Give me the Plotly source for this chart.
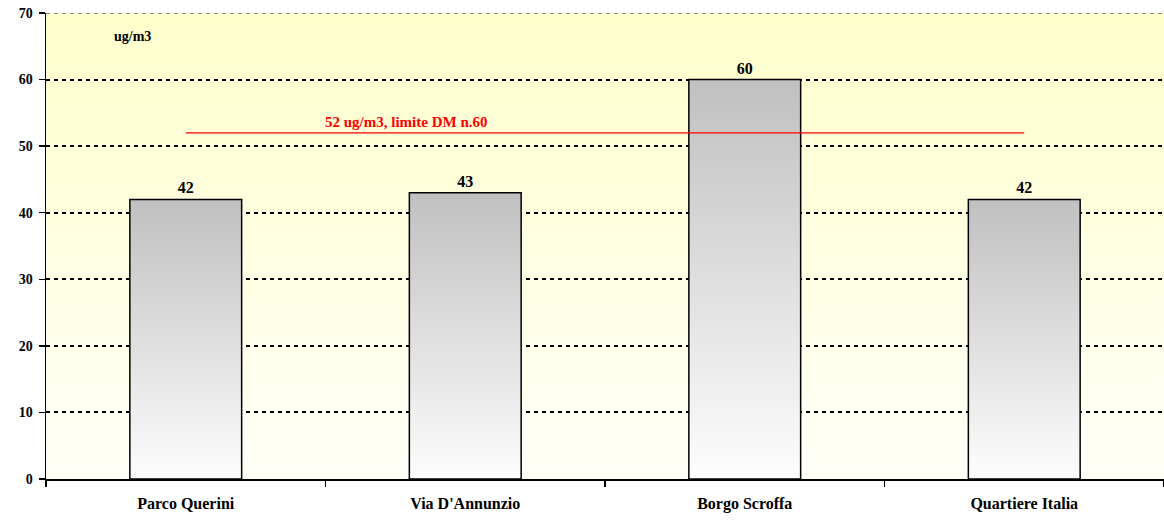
import plotly.graph_objects as go
import urllib.parse

categories = ["Parco Querini", "Via D'Annunzio", "Borgo Scroffa", "Quartiere Italia"]
values = [42, 43, 60, 42]
limit_value = 52
limit_label = "52 ug/m3, limite DM n.60"
unit_label = "ug/m3"
y_ticks = [0, 10, 20, 30, 40, 50, 60, 70]

BAR_W = 0.4
FONT = "Liberation Serif, Times New Roman, serif"

fig = go.Figure()

# background gradient via svg image
svg = ('<svg xmlns="http://www.w3.org/2000/svg" width="10" height="100" preserveAspectRatio="none">'
       '<defs><linearGradient id="g" x1="0" y1="0" x2="0" y2="1">'
       '<stop offset="0" stop-color="#FFFFCC"/><stop offset="1" stop-color="#FFFFF8"/>'
       '</linearGradient></defs><rect width="10" height="100" fill="url(#g)"/></svg>')
src = "data:image/svg+xml;charset=utf-8," + urllib.parse.quote(svg)
fig.add_layout_image(source=src, xref="paper", yref="paper", x=0, y=1, sizex=1, sizey=1,
                     sizing="stretch", xanchor="left", yanchor="top", layer="below")

xs = list(range(len(categories)))

# bar trace (labels)
fig.add_trace(go.Bar(x=xs, y=values, width=BAR_W, marker=dict(color="rgba(0,0,0,0)", line=dict(width=0)),
                     text=[str(v) for v in values], textposition="outside", cliponaxis=False,
                     textfont=dict(family=FONT, size=16, color="black", weight="bold"),
                     hoverinfo="skip", showlegend=False))

# gradient fills for bars
for i, v in zip(xs, values):
    fig.add_trace(go.Scatter(
        x=[i - BAR_W / 2, i - BAR_W / 2, i + BAR_W / 2, i + BAR_W / 2, i - BAR_W / 2],
        y=[0, v, v, 0, 0], mode="lines", fill="toself",
        fillgradient=dict(type="vertical", colorscale=[[0, "#FDFDFD"], [1, "#C0C0C0"]]),
        line=dict(color="black", width=1.5), hoverinfo="skip", showlegend=False))

# limit line
fig.add_trace(go.Scatter(x=[xs[0], xs[-1]], y=[limit_value, limit_value], mode="lines",
                         line=dict(color="#FF0000", width=1.2), hoverinfo="skip", showlegend=False))

fig.add_annotation(x=0.79, y=limit_value, xref="x", yref="y", text=limit_label, showarrow=False,
                   yanchor="bottom", yshift=1,
                   font=dict(family=FONT, size=15, color="#FF0000", weight="bold"))
fig.add_annotation(x=0.059, y=66.4, xref="paper", yref="y", text=unit_label, showarrow=False,
                   font=dict(family=FONT, size=14, color="black", weight="bold"))

# top border line
fig.add_shape(type="line", xref="paper", yref="y", x0=0, x1=1, y0=70, y1=70,
              line=dict(color="#888888", width=2, dash="4px,4px"))

fig.update_layout(
    width=1164, height=520,
    margin=dict(l=46, r=0, t=13, b=41, autoexpand=False),
    paper_bgcolor="white", plot_bgcolor="rgba(0,0,0,0)",
    showlegend=False,
    xaxis=dict(range=[-0.5, 3.5], tickmode="array", tickvals=xs, ticktext=categories,
               ticks="", showgrid=False, zeroline=False, showline=True, linecolor="black", linewidth=1.5,
               automargin=False, ticklabelstandoff=9,
               tickfont=dict(family=FONT, size=16, color="black", weight="bold"),
               minor=dict(tickmode="linear", tick0=-0.5, dtick=1, ticks="outside", ticklen=6,
                          tickcolor="black", tickwidth=1.5, showgrid=False)),
    yaxis=dict(range=[0, 70], tickmode="array", tickvals=y_ticks, ticks="outside", ticklen=6,
               tickcolor="black", tickwidth=1.5, automargin=False, ticklabelstandoff=3,
               showgrid=True, gridcolor="black", griddash="4px,4px", gridwidth=2,
               zeroline=False, showline=True, linecolor="black", linewidth=1.5,
               tickfont=dict(family=FONT, size=14, color="black", weight="bold")),
)

fig.write_html("out.html", config={"displayModeBar": False, "staticPlot": True})

# remove default page margin so the figure sits at the window origin
with open("out.html", "r", encoding="utf-8") as f:
    html = f.read()
html = html.replace("<body>", '<body style="margin:0;overflow:hidden">', 1)
with open("out.html", "w", encoding="utf-8") as f:
    f.write(html)
